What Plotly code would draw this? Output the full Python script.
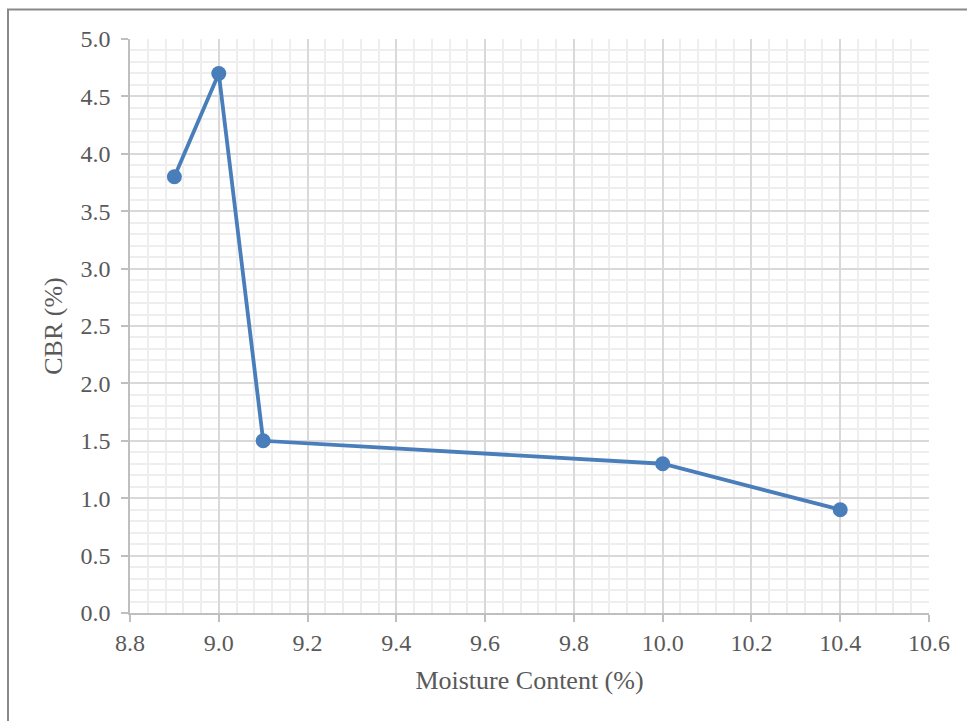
import plotly.graph_objects as go

# CBR test results vs moisture content
moisture = [8.9, 9.0, 9.1, 10.0, 10.4]
cbr = [3.8, 4.7, 1.5, 1.3, 0.9]

x_ticks = [8.8, 9.0, 9.2, 9.4, 9.6, 9.8, 10.0, 10.2, 10.4, 10.6]
y_ticks = [0.0, 0.5, 1.0, 1.5, 2.0, 2.5, 3.0, 3.5, 4.0, 4.5, 5.0]

W, H = 967, 721
L, R, T, B = 130, 38, 39, 108
pw, ph = W - L - R, H - T - B

text_color = "#595959"
font_family = "Liberation Serif, Times New Roman, serif"

fig = go.Figure()
fig.add_trace(go.Scatter(
    x=moisture, y=cbr, mode="lines+markers",
    line=dict(color="#4A7EBB", width=3.8),
    marker=dict(color="#4A7EBB", size=15),
    showlegend=False,
))

axis_common = dict(
    showgrid=True, gridcolor="#D9D9D9", gridwidth=1.5,
    showline=True, linecolor="#BFBFBF", linewidth=1.5,
    ticks="outside", ticklen=7, tickcolor="#BFBFBF", tickwidth=1.5,
    tickfont=dict(family=font_family, size=24, color=text_color),
    zeroline=False, mirror=False,
)

fig.update_xaxes(
    range=[8.8, 10.6], tickvals=x_ticks,
    ticktext=[f"{v:.1f}" for v in x_ticks],
    ticklabelstandoff=0,
    minor=dict(dtick=0.04, tick0=8.8, showgrid=True, gridcolor="#EEEEEE", gridwidth=1.5, ticks=""),
    title=dict(text="Moisture Content (%)", font=dict(family=font_family, size=26, color=text_color), standoff=16),
    **axis_common,
)
fig.update_yaxes(
    range=[0, 5.0], tickvals=y_ticks,
    ticktext=[f"{v:.1f}" for v in y_ticks],
    ticklabelstandoff=6,
    minor=dict(dtick=0.1, tick0=0, showgrid=True, gridcolor="#EEEEEE", gridwidth=1.5, ticks=""),
    title=dict(text="CBR (%)", font=dict(family=font_family, size=26, color=text_color), standoff=10),
    **axis_common,
)

# outer chart frame
fig.add_shape(
    type="rect", xref="paper", yref="paper",
    x0=(8 - L) / pw, x1=(W + 10 - L) / pw,
    y0=(H - B - (H + 10)) / ph, y1=(H - B - 9.5) / ph,
    line=dict(color="#898989", width=2), fillcolor="rgba(0,0,0,0)", layer="below",
)

fig.update_layout(
    width=W, height=H,
    margin=dict(l=L, r=R, t=T, b=B),
    paper_bgcolor="white", plot_bgcolor="white",
    font=dict(family=font_family, color=text_color),
)

fig.write_html("out.html")
